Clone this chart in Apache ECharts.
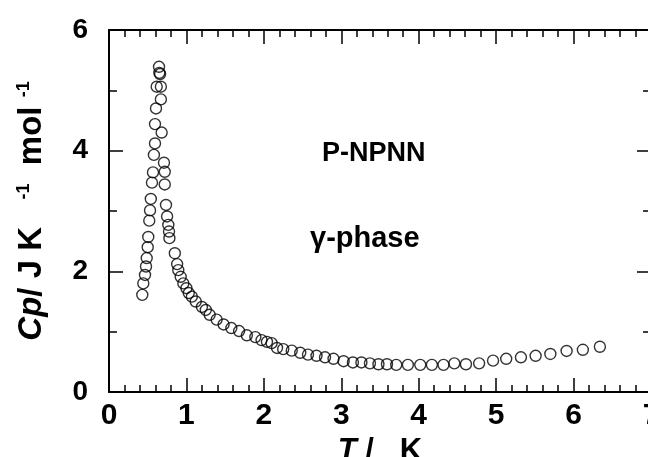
<!DOCTYPE html>
<html>
<head>
<meta charset="utf-8">
<script src="https://cdn.jsdelivr.net/npm/echarts@6/dist/echarts.min.js"></script>
<style>html,body{margin:0;padding:0;background:#fff}#c{width:648px;height:457px}</style>
</head>
<body>
<div id="c"></div>
<script>
// Temperature T / K
const tValues = [
  0.43, 0.443, 0.465, 0.478, 0.487, 0.50, 0.507, 0.52, 0.53, 0.54, 0.555, 0.568, 0.58, 0.594, 0.594, 0.607, 0.616, 0.646, 0.65,
  0.66, 0.67, 0.67, 0.68, 0.71, 0.72, 0.72, 0.736, 0.75, 0.766, 0.775, 0.78,
  0.85, 0.88, 0.895, 0.926, 0.96, 1.00, 1.03, 1.07, 1.12, 1.20, 1.25, 1.30, 1.39, 1.48, 1.58, 1.68, 1.78, 1.89, 1.97,
  2.04, 2.10, 2.17, 2.25, 2.36, 2.47, 2.57, 2.68, 2.79, 2.90, 3.03, 3.15, 3.26, 3.37, 3.48, 3.59, 3.71, 3.86,
  4.02, 4.17, 4.32, 4.46, 4.61, 4.78, 4.96, 5.13, 5.32, 5.51, 5.70, 5.91, 6.12, 6.34
];
// Heat capacity Cp / J K^-1 mol^-1
const cpValues = [
  1.61, 1.80, 1.94, 2.08, 2.22, 2.40, 2.57, 2.84, 3.01, 3.20, 3.47, 3.64, 3.93, 4.12, 4.44, 4.70, 5.06, 5.39, 5.29,
  5.27, 5.06, 4.85, 4.30, 3.80, 3.65, 3.44, 3.10, 2.91, 2.77, 2.66, 2.55,
  2.30, 2.12, 2.02, 1.91, 1.80, 1.72, 1.64, 1.58, 1.50, 1.41, 1.36, 1.28, 1.20, 1.12, 1.06, 1.01, 0.94, 0.91, 0.86,
  0.83, 0.81, 0.73, 0.71, 0.685, 0.65, 0.62, 0.60, 0.575, 0.55, 0.51, 0.49, 0.49, 0.475, 0.46, 0.46, 0.45, 0.45,
  0.45, 0.45, 0.45, 0.475, 0.46, 0.475, 0.52, 0.55, 0.575, 0.60, 0.63, 0.68, 0.70, 0.75
];
const xTicks = [0, 7, 1];   // min, max, interval
const yTicks = [0, 6, 2];

const points = tValues.map((t, i) => [t, cpValues[i]]);
const FONT = "'Liberation Sans', Arial, sans-serif";
const tickLine = {color: '#000', width: 1.5};

function xAxisCfg(pos, showLabel) {
  return {
    type: 'value', position: pos, min: xTicks[0], max: xTicks[1], interval: xTicks[2],
    axisLine: {show: true, onZero: false, lineStyle: {color: '#000', width: 2}},
    axisTick: {show: true, inside: true, length: 14, lineStyle: tickLine},
    minorTick: {show: true, splitNumber: 5, length: 7, lineStyle: tickLine},
    splitLine: {show: false},
    axisLabel: {show: showLabel, color: '#000', fontFamily: FONT, fontWeight: 'bold', fontSize: 30, margin: 9},
  };
}
function yAxisCfg(pos, showLabel) {
  return {
    type: 'value', position: pos, min: yTicks[0], max: yTicks[1], interval: yTicks[2],
    axisLine: {show: true, onZero: false, lineStyle: {color: '#000', width: 2}},
    axisTick: {show: true, inside: true, length: 14, lineStyle: tickLine},
    minorTick: {show: true, splitNumber: 2, length: 8, lineStyle: tickLine},
    splitLine: {show: false},
    axisLabel: {show: showLabel, color: '#000', fontFamily: FONT, fontWeight: 'bold', fontSize: 28, margin: 21},
  };
}

const xMain = xAxisCfg('bottom', true);
xMain.name = '{i|T}{n| /   K}';
xMain.nameLocation = 'middle';
xMain.nameGap = 42;
xMain.nameTextStyle = {
  rich: {
    i: {fontFamily: FONT, fontWeight: 'bold', fontStyle: 'italic', fontSize: 31, color: '#000'},
    n: {fontFamily: FONT, fontWeight: 'bold', fontSize: 31, color: '#000'}
  }
};
const xTop = xAxisCfg('top', false);

const yMain = yAxisCfg('left', true);
yMain.name = '{i|Cp}{n|/ J K   }{s|-1}{n|  mol }{s|-1}';
yMain.nameLocation = 'middle';
yMain.nameRotate = 90;
yMain.nameGap = 60;
yMain.nameTextStyle = {
  rich: {
    i: {fontFamily: FONT, fontWeight: 'bold', fontStyle: 'italic', fontSize: 33, color: '#000'},
    n: {fontFamily: FONT, fontWeight: 'bold', fontSize: 33, color: '#000'},
    s: {fontFamily: FONT, fontWeight: 'bold', fontSize: 18, color: '#000', verticalAlign: 'top', padding: [0, 0, 16, 0]}
  }
};
const yRight = yAxisCfg('right', false);

const chart = echarts.init(document.getElementById('c'), null, {renderer: 'canvas'});
chart.setOption({
  animation: false,
  backgroundColor: '#fff',
  grid: {left: 109, right: -3, top: 30, bottom: 65, containLabel: false, outerBoundsMode: 'none'},
  xAxis: [xMain, xTop],
  yAxis: [yMain, yRight],
  series: [{
    type: 'scatter', xAxisIndex: 0, yAxisIndex: 0, data: points,
    symbol: 'circle', symbolSize: 11,
    itemStyle: {color: 'rgba(255,255,255,0)', borderColor: '#000', borderWidth: 1.4}
  }],
  graphic: [
    {type: 'text', left: 322, top: 140, style: {text: 'P-NPNN', font: "bold 27px 'Liberation Sans', Arial", fill: '#000'}},
    {type: 'text', left: 310, top: 224, style: {text: 'γ-phase', font: "bold 29px 'Liberation Sans', Arial", fill: '#000'}}
  ]
});
</script>
</body>
</html>
